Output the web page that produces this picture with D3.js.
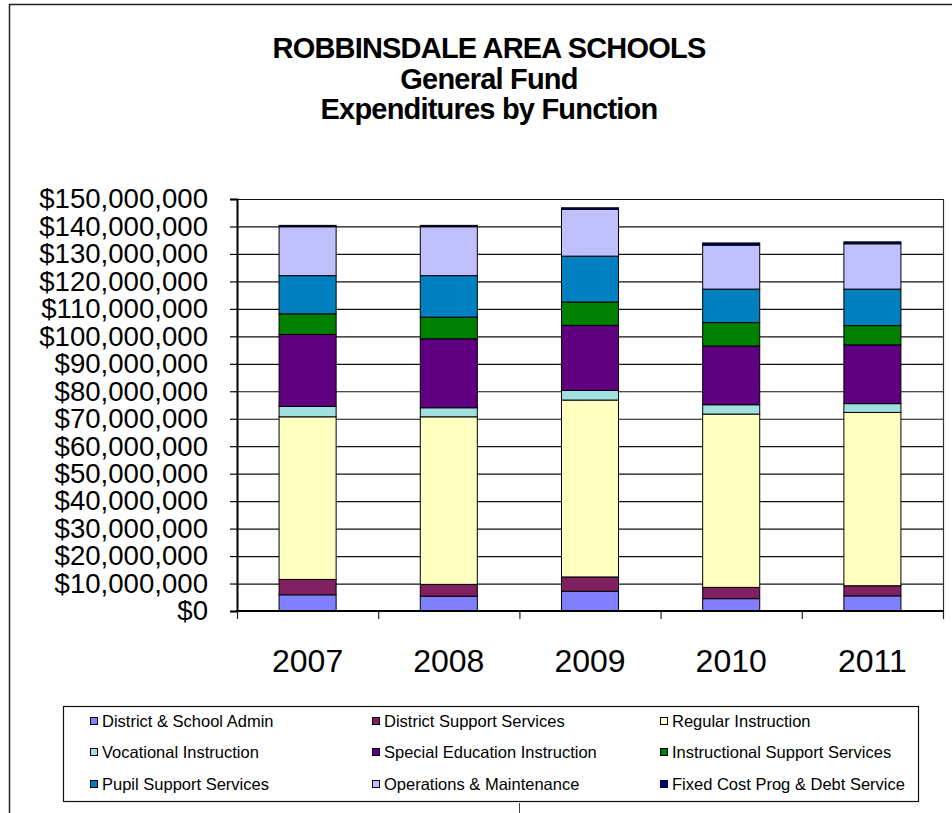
<!DOCTYPE html>
<html><head><meta charset="utf-8">
<script src="https://cdn.jsdelivr.net/npm/d3@7/dist/d3.min.js"></script>
<style>body{margin:0;background:#fff} svg{display:block}</style>
</head><body>
<svg id="c" width="952" height="813"></svg>
<script>
// ---- data ----
const years = ["2007", "2008", "2009", "2010", "2011"];
const seriesNames = [
  "District & School Admin", "District Support Services", "Regular Instruction",
  "Vocational Instruction", "Special Education Instruction", "Instructional Support Services",
  "Pupil Support Services", "Operations & Maintenance", "Fixed Cost Prog & Debt Service"
];
const districtSchoolAdmin      = [5900000, 5400000, 7200000, 4500000, 5500000];
const districtSupportServices  = [5600000, 4300000, 5200000, 4100000, 3700000];
const regularInstruction       = [59200000, 61000000, 64400000, 63100000, 63100000];
const vocationalInstruction    = [3800000, 3300000, 3500000, 3400000, 3200000];
const specialEducation         = [26200000, 25100000, 23700000, 21400000, 21400000];
const instructionalSupport     = [7500000, 7900000, 8500000, 8500000, 7000000];
const pupilSupportServices     = [13900000, 15100000, 16700000, 12200000, 13300000];
const operationsMaintenance    = [17800000, 17800000, 17000000, 16000000, 16500000];
const fixedCostDebtService     = [500000, 500000, 600000, 800000, 700000];
const yTickValues = [0, 10000000, 20000000, 30000000, 40000000, 50000000, 60000000, 70000000,
  80000000, 90000000, 100000000, 110000000, 120000000, 130000000, 140000000, 150000000];
const titleLines = ["ROBBINSDALE AREA SCHOOLS", "General Fund", "Expenditures by Function"];

// ---- styles ----
const seriesColors = ["#8080FF", "#802060", "#FFFFC0", "#A0E0E0", "#600080",
  "#008000", "#0080C0", "#C0C0FF", "#000080"];
const FONT = "'Liberation Sans', Arial, sans-serif";

const seriesArrays = [districtSchoolAdmin, districtSupportServices, regularInstruction,
  vocationalInstruction, specialEducation, instructionalSupport, pupilSupportServices,
  operationsMaintenance, fixedCostDebtService];
const table = years.map((yr, i) => {
  const row = { year: yr };
  seriesNames.forEach((s, k) => row[s] = seriesArrays[k][i]);
  return row;
});
const stacked = d3.stack().keys(seriesNames)(table);

const svg = d3.select("#c");

// outer chart border
svg.append("path").attr("d", "M9.5,813 L9.5,4.5 L960,4.5")
  .attr("fill", "none").attr("stroke", "#222").attr("stroke-width", 1.5);
svg.append("line").attr("x1", 519.5).attr("x2", 519.5).attr("y1", 803).attr("y2", 813)
  .attr("stroke", "#444").attr("stroke-width", 1);

// title
const title = svg.append("text").attr("font-family", FONT).attr("font-weight", "bold")
  .attr("font-size", 29).attr("text-anchor", "middle").attr("letter-spacing", -0.8);
const titleY = [58, 89, 119];
titleLines.forEach((t, i) => title.append("tspan").attr("x", 489).attr("y", titleY[i]).text(t));

const pL = 237, pR = 943, pT = 199, pB = 611;
const x = d3.scaleBand().domain(years).range([pL, pR]).padding(0);
const y = d3.scaleLinear().domain([0, 150000000]).range([pB, pT]);
const barW = x.bandwidth() * 0.404;

// gridlines
svg.append("g").attr("transform", `translate(${pL},0)`)
  .call(d3.axisLeft(y).tickValues(yTickValues).tickSize(-(pR - pL)).tickFormat(""))
  .call(g => g.select(".domain").remove())
  .call(g => g.selectAll("line").attr("stroke", "#111").attr("stroke-width", 1.2));

// right plot edge
svg.append("line").attr("x1", pR + 0.5).attr("x2", pR + 0.5).attr("y1", pT).attr("y2", pB)
  .attr("stroke", "#333").attr("stroke-width", 1.2);

// bars
svg.append("g").selectAll("g").data(stacked).join("g")
  .attr("fill", (d, i) => seriesColors[i])
  .selectAll("rect").data(d => d).join("rect")
  .attr("x", d => x(d.data.year) + (x.bandwidth() - barW) / 2)
  .attr("width", barW)
  .attr("y", d => y(d[1]))
  .attr("height", d => y(d[0]) - y(d[1]))
  .attr("stroke", "#000").attr("stroke-width", 1);

// y axis
svg.append("g").attr("transform", `translate(${pL},0)`)
  .call(d3.axisLeft(y).tickValues(yTickValues).tickSize(7).tickPadding(22)
    .tickFormat(d => "$" + d3.format(",")(d)))
  .call(g => g.select(".domain").attr("stroke", "#000").attr("stroke-width", 2))
  .call(g => g.selectAll(".tick line").attr("stroke", "#000").attr("stroke-width", 1.2))
  .call(g => g.selectAll("text").attr("font-family", FONT).attr("font-size", 27.6).attr("fill", "#000"));

// x axis baseline and boundary ticks
svg.append("line").attr("x1", pL - 1).attr("x2", pR + 1).attr("y1", pB).attr("y2", pB)
  .attr("stroke", "#000").attr("stroke-width", 2);
const bounds = years.map(d => x(d)).concat([pR]);
svg.append("g").selectAll("line").data(bounds).join("line")
  .attr("x1", d => d + 0.5).attr("x2", d => d + 0.5).attr("y1", pB).attr("y2", pB + 8)
  .attr("stroke", "#222").attr("stroke-width", 1.2);
svg.append("g").attr("transform", `translate(0,${pB})`)
  .call(d3.axisBottom(x).tickSize(0).tickPadding(38))
  .call(g => g.select(".domain").remove())
  .call(g => g.selectAll("text").attr("font-family", FONT).attr("font-size", 32).attr("fill", "#000"));

// legend
svg.append("rect").attr("x", 63.5).attr("y", 706.5).attr("width", 855).attr("height", 95)
  .attr("fill", "#fff").attr("stroke", "#111").attr("stroke-width", 1.2);
const colX = [90, 372, 660], rowY = [727, 758, 790];
const leg = svg.append("g").selectAll("g").data(seriesNames).join("g")
  .attr("transform", (d, i) => `translate(${colX[i % 3]},${rowY[Math.floor(i / 3)]})`);
leg.append("rect").attr("x", 0.5).attr("y", -9.5).attr("width", 7).attr("height", 7)
  .attr("fill", (d, i) => seriesColors[i]).attr("stroke", "#000").attr("stroke-width", 1);
leg.append("text").attr("x", 12).attr("y", 0).attr("font-family", FONT).attr("font-size", 16.5)
  .attr("fill", "#000").text(d => d);
</script>
</body></html>
